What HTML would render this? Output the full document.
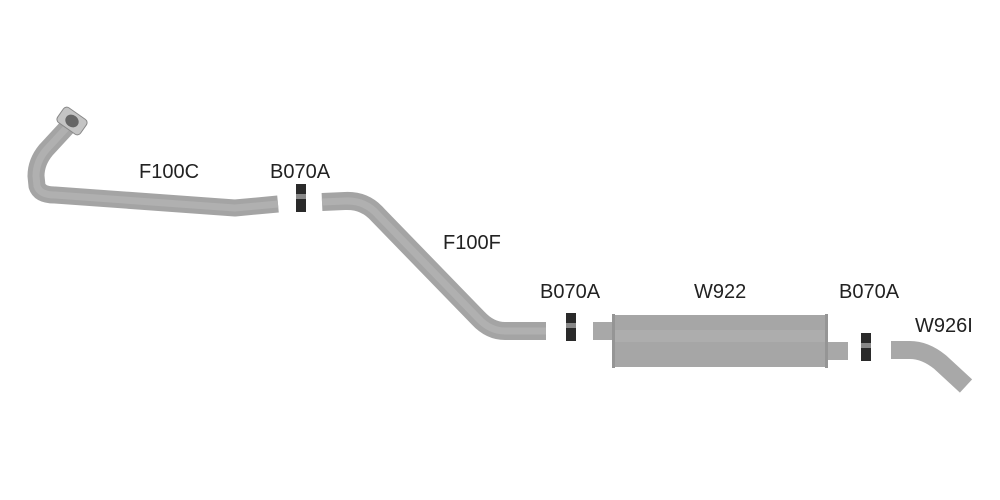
<!DOCTYPE html>
<html><head><style>
html,body{margin:0;padding:0;background:#fff;width:1000px;height:500px;overflow:hidden}
svg text{font-family:"Liberation Sans",sans-serif;font-size:20px;fill:#222}
</style></head><body>
<svg width="1000" height="500" viewBox="0 0 1000 500" xmlns="http://www.w3.org/2000/svg">
<g fill="none" stroke-linecap="butt" stroke-linejoin="round">
<!-- F100C -->
<path d="M70 124 L46 150 Q36 162 36 176 L37 186 Q40 195 55 195 L235 208 L278 204" stroke="#a4a4a4" stroke-width="17"/>
<path d="M70 124 L46 150 Q36 162 36 176 L37 186 Q40 195 55 195 L235 208 L278 204" stroke="#b0b0b0" stroke-width="7"/>
<!-- F100F -->
<path d="M322 202 L345 201 Q365 200 378 215 L478 318 Q490 331 505 331 L546 331" stroke="#a4a4a4" stroke-width="18"/>
<path d="M322 202 L345 201 Q365 200 378 215 L478 318 Q490 331 505 331 L546 331" stroke="#b0b0b0" stroke-width="7"/>
<!-- W926I -->
<path d="M891 350 L910 350 Q925 350 940 362 L966 386" stroke="#a8a8a8" stroke-width="18"/>
</g>
<!-- flange -->
<g transform="translate(72,121) rotate(35)">
<rect x="-14" y="-9" width="28" height="18" rx="4" fill="#c4c4c4" stroke="#888" stroke-width="1"/>
<ellipse cx="0" cy="0" rx="7" ry="6" fill="#666"/>
</g>
<!-- clamps -->
<rect x="296" y="184" width="10" height="28" fill="#2a2a2a"/>
<rect x="296" y="194" width="10" height="5" fill="#888"/>
<rect x="566" y="313" width="10" height="28" fill="#2a2a2a"/>
<rect x="566" y="323" width="10" height="5" fill="#888"/>
<rect x="861" y="333" width="10" height="28" fill="#2a2a2a"/>
<rect x="861" y="343" width="10" height="5" fill="#888"/>
<!-- muffler stubs -->
<rect x="593" y="322" width="21" height="18" fill="#a8a8a8"/>
<rect x="826" y="342" width="22" height="18" fill="#a8a8a8"/>
<!-- muffler -->
<rect x="613" y="315" width="214" height="52" fill="#a6a6a6"/>
<rect x="613" y="330" width="214" height="12" fill="#adadad"/>
<rect x="612" y="314" width="3" height="54" fill="#959595"/>
<rect x="825" y="314" width="3" height="54" fill="#959595"/>
<text x="139" y="178">F100C</text>
<text x="270" y="178">B070A</text>
<text x="443" y="249">F100F</text>
<text x="540" y="298">B070A</text>
<text x="694" y="298">W922</text>
<text x="839" y="298">B070A</text>
<text x="915" y="332">W926I</text>
</svg>
</body></html>
